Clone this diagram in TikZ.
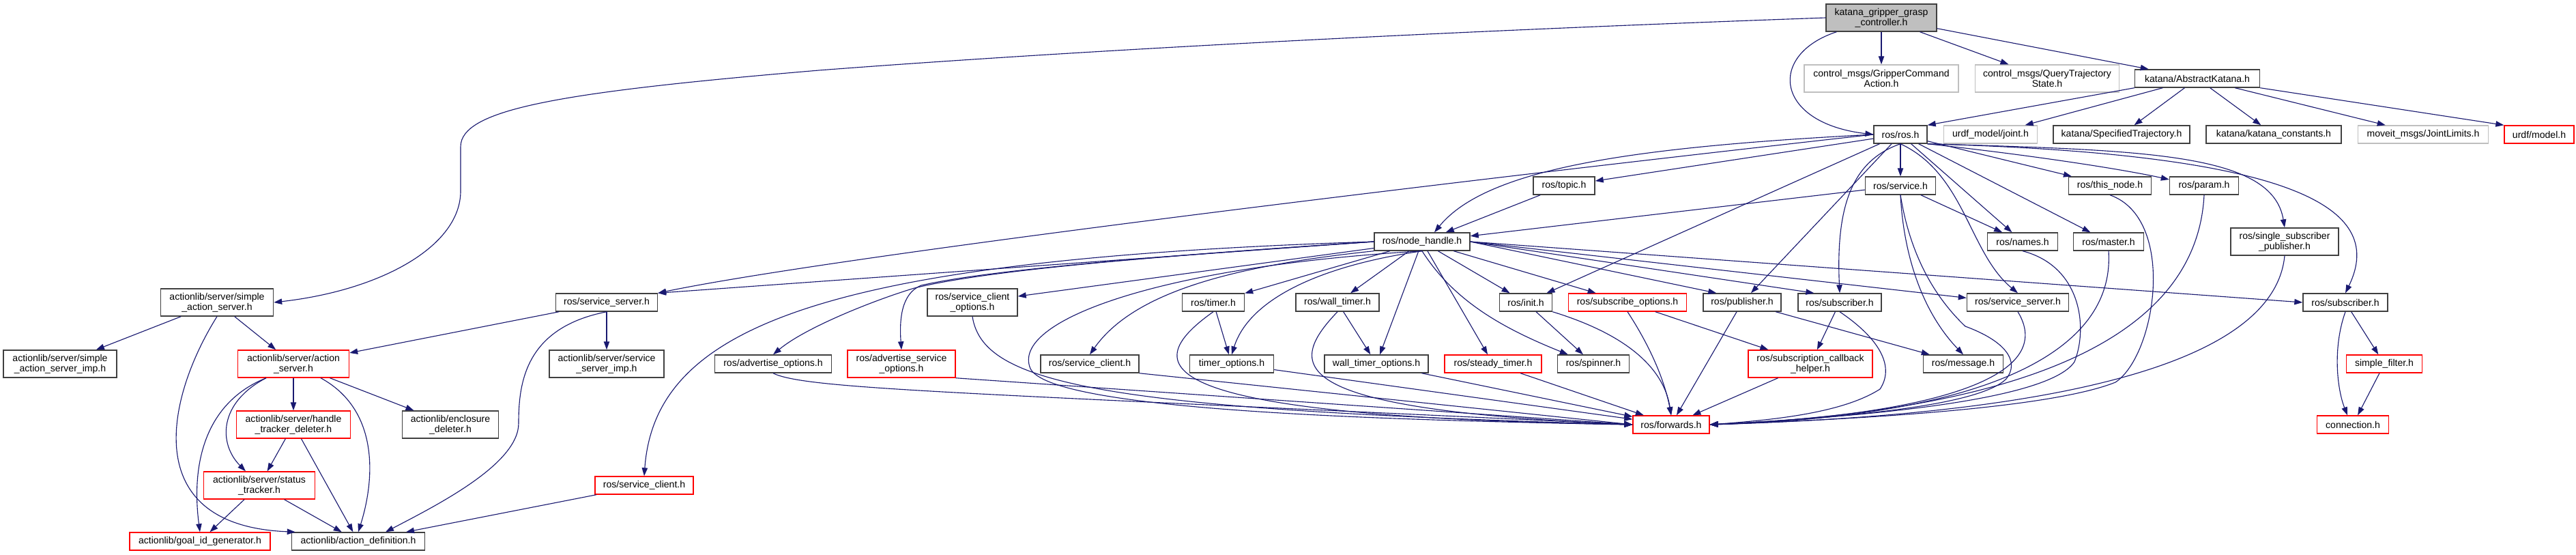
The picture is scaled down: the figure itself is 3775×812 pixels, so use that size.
\documentclass[tikz,border=0pt]{standalone}
\usepackage{fontspec}
\setmainfont{Liberation Sans}
\usetikzlibrary{arrows.meta}
\definecolor{edgeblue}{HTML}{191970}
\definecolor{docgray}{HTML}{BFBFBF}
\definecolor{hdrgray}{HTML}{404040}
\newcommand\graphfont{\fontsize{10pt}{10.8pt}\selectfont}

\begin{document}
\begin{tikzpicture}[x=0.025cm,y=-0.025cm,>={Triangle[length=0.3cm,width=0.21cm]},
    hdr/.style={draw=hdrgray,line width=1pt,fill=white,inner sep=0pt,align=center,font=\graphfont,minimum height=0.65cm},
    nodoc/.style={hdr,draw=docgray},
    trunc/.style={hdr,draw=red},
    root/.style={hdr,fill=docgray},
    dbl/.style={minimum height=1cm},
    boxw/.style={minimum width=#1*0.025cm},
    dep/.style={->,draw=edgeblue,line width=0.8pt}]
    \useasboundingbox (0,0) rectangle (3775,812);
    % top rows
    \node[root,dbl,boxw=162] (main) at (2757,26) {katana\_gripper\_grasp\\\_controller.h};
    \node[nodoc,dbl,boxw=226] (gca) at (2757,115) {control\_msgs/GripperCommand\\Action.h};
    \node[nodoc,dbl,boxw=211] (qts) at (3000,115) {control\_msgs/QueryTrajectory\\State.h};
    \node[hdr,boxw=183] (ak) at (3220,115) {katana/AbstractKatana.h};
    \node[hdr,boxw=78] (rosh) at (2785,197) {ros/ros.h};
    \node[nodoc,boxw=137] (joint) at (2917,197) {urdf\_model/joint.h};
    \node[hdr,boxw=200] (spec) at (3109,197) {katana/SpecifiedTrajectory.h};
    \node[hdr,boxw=198] (kconst) at (3332,197) {katana/katana\_constants.h};
    \node[nodoc,boxw=191] (jlim) at (3551,197) {moveit\_msgs/JointLimits.h};
    \node[trunc,boxw=102] (model) at (3721,197) {urdf/model.h};
    \node[hdr,boxw=90] (topic) at (2292,272) {ros/topic.h};
    \node[hdr,boxw=103] (service) at (2785,272) {ros/service.h};
    \node[hdr,boxw=121] (thisnode) at (3092,272) {ros/this\_node.h};
    \node[hdr,boxw=101] (param) at (3230,272) {ros/param.h};
    \node[hdr,boxw=140] (nh) at (2084,354) {ros/node\_handle.h};
    \node[hdr,boxw=103] (names) at (2964,354) {ros/names.h};
    \node[hdr,boxw=103] (master) at (3090,354) {ros/master.h};
    \node[hdr,dbl,boxw=158] (ssp) at (3348,354) {ros/single\_subscriber\\\_publisher.h};
    % middle row
    \node[hdr,dbl,boxw=165] (sas) at (318,443) {actionlib/server/simple\\\_action\_server.h};
    \node[hdr,boxw=149] (ssl) at (889,443) {ros/service\_server.h};
    \node[hdr,dbl,boxw=132] (sco) at (1425,443) {ros/service\_client\\\_options.h};
    \node[hdr,boxw=91] (timer) at (1778,443) {ros/timer.h};
    \node[hdr,boxw=122] (wtimer) at (1960,443) {ros/wall\_timer.h};
    \node[hdr,boxw=77] (init) at (2236,443) {ros/init.h};
    \node[trunc,boxw=173] (subopt) at (2385,443) {ros/subscribe\_options.h};
    \node[hdr,boxw=114] (pub) at (2553,443) {ros/publisher.h};
    \node[hdr,boxw=122] (subm) at (2696,443) {ros/subscriber.h};
    \node[hdr,boxw=149] (ssr) at (2957,443) {ros/service\_server.h};
    \node[hdr,boxw=124] (subr) at (3437,443) {ros/subscriber.h};
    \node[hdr,dbl,boxw=166] (sasimp) at (88,533) {actionlib/server/simple\\\_action\_server\_imp.h};
    \node[trunc,dbl,boxw=163] (as) at (430,533) {actionlib/server/action\\\_server.h};
    \node[hdr,dbl,boxw=168] (ssimp) at (889,533) {actionlib/server/service\\\_server\_imp.h};
    \node[hdr,boxw=171] (advopt) at (1133,533) {ros/advertise\_options.h};
    \node[trunc,dbl,boxw=158] (advsopt) at (1321,533) {ros/advertise\_service\\\_options.h};
    \node[hdr,boxw=144] (scb) at (1597,533) {ros/service\_client.h};
    \node[hdr,boxw=123] (topt) at (1805,533) {timer\_options.h};
    \node[hdr,boxw=152] (wtopt) at (2017,533) {wall\_timer\_options.h};
    \node[trunc,boxw=142] (steady) at (2188,533) {ros/steady\_timer.h};
    \node[hdr,boxw=105] (spin) at (2335,533) {ros/spinner.h};
    \node[trunc,dbl,boxw=182] (scbh) at (2653,533) {ros/subscription\_callback\\\_helper.h};
    \node[hdr,boxw=117] (msg) at (2877,533) {ros/message.h};
    \node[trunc,boxw=111] (sfilt) at (3494,533) {simple\_filter.h};
    % bottom rows
    \node[trunc,dbl,boxw=167] (htd) at (430,622) {actionlib/server/handle\\\_tracker\_deleter.h};
    \node[hdr,dbl,boxw=141] (encl) at (660,622) {actionlib/enclosure\\\_deleter.h};
    \node[trunc,boxw=112] (fwd) at (2449,622) {ros/forwards.h};
    \node[trunc,boxw=105] (conn) at (3448,622) {connection.h};
    \node[trunc,dbl,boxw=163] (stt) at (380,711) {actionlib/server/status\\\_tracker.h};
    \node[trunc,boxw=144] (scr) at (944,711) {ros/service\_client.h};
    \node[trunc,boxw=206] (gid) at (293,793) {actionlib/goal\_id\_generator.h};
    \node[hdr,boxw=195] (adef) at (525,793) {actionlib/action\_definition.h};
    % root and katana
    \draw[dep] (main) -- (gca); \draw[dep] (main) -- (qts); \draw[dep] (main) -- (ak);
    \draw[dep] ([xshift=0.4cm]main.south west) .. controls (2590,80) and (2600,180) .. (rosh.west);
    \draw[dep] (main.west) .. controls (2000,50) and (1500,80) .. (1200,103) .. controls (820,135) and (675,160) .. (675,215) -- (675,280) .. controls (675,360) and (560,425) .. (sas.east);
    \draw[dep] (ak.south west) -- (rosh.north east); \draw[dep] (ak) -- (joint); \draw[dep] (ak) -- (spec);
    \draw[dep] (ak) -- (kconst); \draw[dep] (ak) -- (jlim); \draw[dep] (ak.south east) -- (model.north west);
    % ros.h
    \draw[dep] (rosh) -- (service); \draw[dep] (rosh) -- (topic); \draw[dep] (rosh) -- (init); \draw[dep] (rosh) -- (pub);
    \draw[dep] (rosh) -- (names); \draw[dep] (rosh) -- (master); \draw[dep] (rosh) -- (thisnode);
    \draw[dep] (rosh.south east) .. controls (3000,230) and (3120,250) .. (param.170);
    \draw[dep] (rosh.west) .. controls (2400,215) and (2180,245) .. ([xshift=0.45cm]nh.north);
    \draw[dep] (rosh.west) .. controls (2000,280) and (1200,380) .. (ssl.north east);
    \draw[dep] (rosh.south) .. controls (2715,235) and (2690,300) .. (subm.north);
    \draw[dep] (rosh.south) .. controls (2880,255) and (2885,370) .. (ssr.north);
    \draw[dep] (rosh.south east) .. controls (3150,220) and (3330,225) .. (ssp.north);
    \draw[dep] (rosh.south east) .. controls (3350,225) and (3500,300) .. (subr.north);
    \draw[dep] (topic) -- (nh); \draw[dep] (service) -- (nh); \draw[dep] (service) -- (names);
    \draw[dep] (service.south) .. controls (2790,380) and (2820,460) .. (msg.north);
    \draw[dep] (service.south) .. controls (2800,380) and (2840,440) .. (2880,478) .. controls (2940,500) and (2960,530) .. (2940,555) .. controls (2900,595) and (2700,612) .. (fwd.east);
    % into forwards from the right
    \draw[dep] (names.south) .. controls (3050,390) and (3060,480) .. (3040,530) .. controls (3000,590) and (2700,612) .. (fwd.east);
    \draw[dep] (master.south) .. controls (3100,520) and (2900,610) .. (fwd.east);
    \draw[dep] (thisnode.south) .. controls (3190,320) and (3160,520) .. (3100,560) .. controls (3000,600) and (2700,615) .. (fwd.east);
    \draw[dep] (param.south) .. controls (3220,480) and (3000,600) .. (fwd.east);
    \draw[dep] (ssp.south) .. controls (3330,560) and (2900,610) .. (fwd.east);
    \draw[dep] (subm.south) .. controls (2760,500) and (2775,540) .. (2755,570) .. controls (2700,605) and (2600,615) .. (fwd.east);
    \draw[dep] (ssr.south) .. controls (3020,560) and (2800,610) .. (fwd.east);
    % node_handle
    \draw[dep] (nh.west) -- (ssl.north east); \draw[dep] (nh) -- (sco); \draw[dep] (nh) -- (timer); \draw[dep] (nh) -- (wtimer);
    \draw[dep] (nh) -- (wtopt); \draw[dep] (nh) -- (steady); \draw[dep] (nh) -- (init); \draw[dep] (nh) -- (subopt);
    \draw[dep] (nh.east) -- (pub.160); \draw[dep] (nh.east) -- (subm.160); \draw[dep] (nh.east) -- (ssr.175); \draw[dep] (nh.east) -- (subr.west);
    \draw[dep] (nh.west) .. controls (1200,380) and (960,480) .. (scr.north);
    \draw[dep] (nh.west) .. controls (1700,375) and (1450,395) .. (1340,422) .. controls (1280,440) and (1180,480) .. (advopt.north);
    \draw[dep] (nh.west) .. controls (1700,375) and (1450,395) .. (1350,418) .. controls (1320,430) and (1318,470) .. (advsopt.north);
    \draw[dep] (nh.south west) .. controls (1800,390) and (1660,430) .. (scb.north);
    \draw[dep] (nh.south) .. controls (1930,390) and (1830,440) .. (topt.north);
    \draw[dep] (nh.south) .. controls (2130,440) and (2200,480) .. ([xshift=0.4cm]spin.north west);
    \draw[dep] (nh.south) .. controls (1700,390) and (1480,470) .. (1510,540) .. controls (1540,600) and (2000,615) .. (fwd.west);
    % lower ros headers
    \draw[dep] (init) -- (spin); \draw[dep] (pub) -- (fwd); \draw[dep] (pub) -- (msg); \draw[dep] (subm) -- (scbh);
    \draw[dep] (subopt) -- (scbh); \draw[dep] (scbh) -- (fwd); \draw[dep] (steady) -- (fwd); \draw[dep] (wtopt) -- (fwd);
    \draw[dep] (wtimer) -- (wtopt); \draw[dep] (timer) -- (topt); \draw[dep] (topt) -- (fwd);
    \draw[dep] (scb.south east) -- (fwd.west); \draw[dep] (advsopt.south east) -- (fwd.west);
    \draw[dep] (subopt.south) .. controls (2420,510) and (2440,560) .. (fwd.north);
    \draw[dep] (init.south east) .. controls (2400,495) and (2440,550) .. (fwd.north);
    \draw[dep] (wtimer.south) .. controls (1880,540) and (1890,600) .. (fwd.west);
    \draw[dep] (timer.south) .. controls (1660,540) and (1690,610) .. (fwd.west);
    \draw[dep] (sco.south) .. controls (1440,560) and (1600,600) .. (fwd.west);
    \draw[dep] (advopt.south) .. controls (1180,570) and (1400,575) .. (fwd.west);
    \draw[dep] (subr) -- (sfilt); \draw[dep] (sfilt) -- (conn);
    \draw[dep] (subr.south) .. controls (3418,510) and (3425,570) .. ([xshift=-0.2cm]conn.north);
    % actionlib
    \draw[dep] (sas) -- (sasimp); \draw[dep] (sas) -- (as);
    \draw[dep] (sas.south) .. controls (245,580) and (200,770) .. ([xshift=0.15cm]adef.north west);
    \draw[dep] (as) -- (htd); \draw[dep] (as) -- (encl);
    \draw[dep] ([xshift=1cm]as.south) .. controls (555,600) and (550,700) .. (adef.north);
    \draw[dep] ([xshift=-1cm]as.south) .. controls (320,590) and (320,650) .. ([xshift=-0.5cm]stt.north);
    \draw[dep] ([xshift=-1cm]as.south) .. controls (300,590) and (280,680) .. (gid.north);
    \draw[dep] (htd) -- (stt); \draw[dep] (htd) -- (adef); \draw[dep] (stt) -- (gid); \draw[dep] (stt) -- (adef);
    \draw[dep] (ssl) -- (ssimp); \draw[dep] (ssl) -- (as); \draw[dep] (scr) -- (adef);
    \draw[dep] (ssl.south) .. controls (770,480) and (760,560) .. (760,620) .. controls (760,680) and (640,740) .. ([xshift=1cm]adef.north);
\end{tikzpicture}
\end{document}
